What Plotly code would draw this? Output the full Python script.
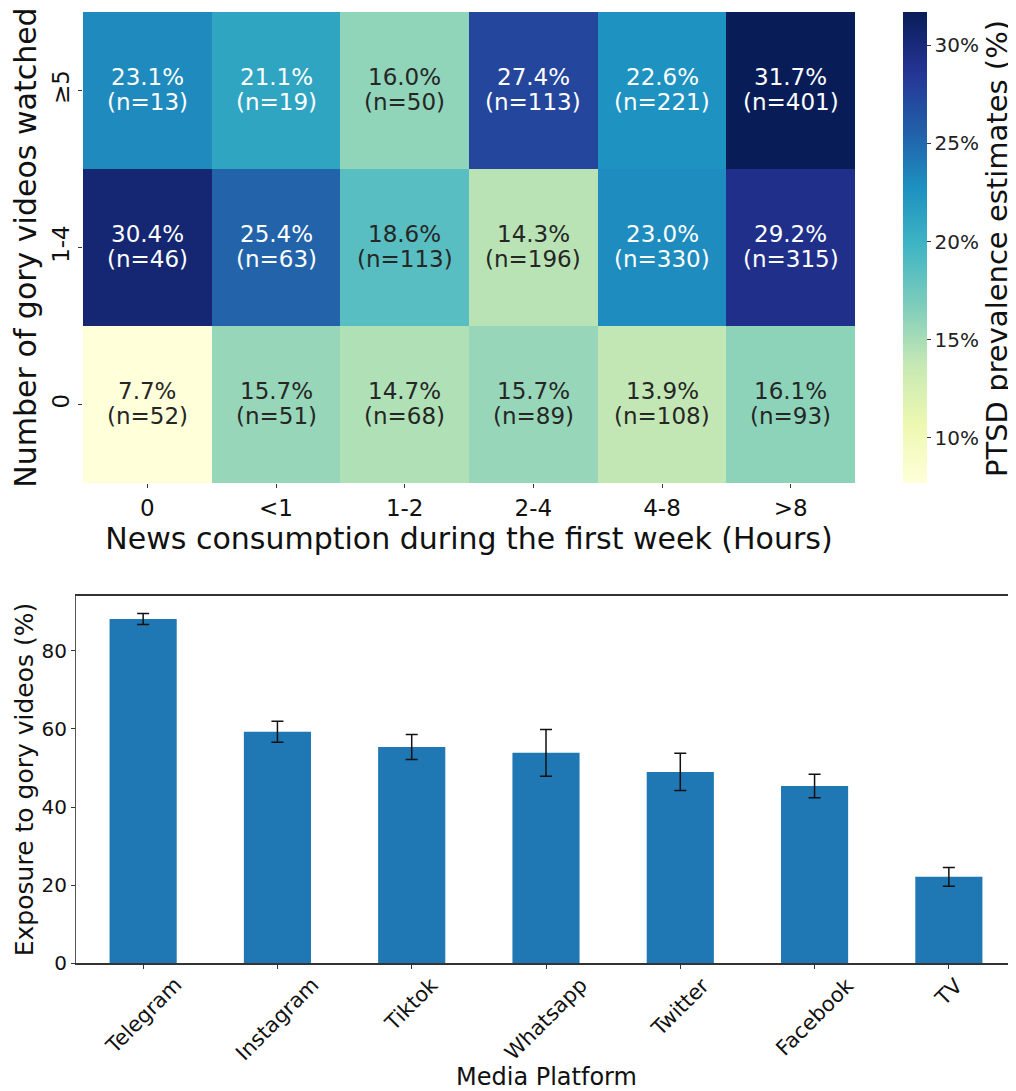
import plotly.graph_objects as go
from plotly.colors import sequential

# ---------------- data ----------------
news_hours = ["0", "<1", "1-2", "2-4", "4-8", ">8"]
gory_levels = ["0", "1-4", "≥5"]  # bottom to top
ptsd_0 = [7.7, 15.7, 14.7, 15.7, 13.9, 16.1]
ptsd_1_4 = [30.4, 25.4, 18.6, 14.3, 23.0, 29.2]
ptsd_5 = [23.1, 21.1, 16.0, 27.4, 22.6, 31.7]
n_0 = [52, 51, 68, 89, 108, 93]
n_1_4 = [46, 63, 113, 196, 330, 315]
n_5 = [13, 19, 50, 113, 221, 401]

platforms = ["Telegram", "Instagram", "Tiktok", "Whatsapp", "Twitter", "Facebook", "TV"]
exposure = [88.2, 59.3, 55.4, 53.9, 49.0, 45.4, 22.1]
exposure_err = [1.4, 2.7, 3.2, 6.0, 4.8, 3.0, 2.4]
cbar_ticks = [10, 15, 20, 25, 30]

z = [ptsd_0, ptsd_1_4, ptsd_5]
nn = [n_0, n_1_4, n_5]
zmin = min(min(r) for r in z)
zmax = max(max(r) for r in z)

FONT = "DejaVu Sans"
OFF = 8                      # browser body margin
W, H = 1016 - OFF, 1091 - OFF
DARK = "#262626"


def px(x):
    return (x - OFF) / W


def py(y):
    return 1 - (y - OFF) / H


fig = go.Figure()
fig.add_trace(go.Heatmap(
    x=news_hours, y=gory_levels, z=z,
    colorscale=sequential.YlGnBu, zmin=zmin, zmax=zmax,
    xgap=0, ygap=0, hoverinfo="skip",
    colorbar=dict(
        x=px(903), xanchor="left", y=py(12), yanchor="top",
        len=471 / H, lenmode="fraction", thickness=24, outlinewidth=0,
        xpad=0, ypad=0,
        tickvals=cbar_ticks, ticktext=[f"{t}%" for t in cbar_ticks],
        ticks="outside", ticklen=4, tickcolor="#333",
        tickfont=dict(family=FONT, size=20, color="#222"),
    ),
    xaxis="x", yaxis="y",
))

annotations = []
for i, lvl in enumerate(gory_levels):
    for j, h in enumerate(news_hours):
        v = z[i][j]
        col = "white" if v > 20 else DARK
        annotations.append(dict(
            x=h, y=lvl, xref="x", yref="y", text=f"{v:.1f}%",
            showarrow=False, yshift=13,
            font=dict(family=FONT, size=23, color=col),
        ))
        annotations.append(dict(
            x=h, y=lvl, xref="x", yref="y", text=f"(n={nn[i][j]})",
            showarrow=False, yshift=-12,
            font=dict(family=FONT, size=23, color=col),
        ))

# colorbar title
annotations.append(dict(
    x=px(997), y=py(249), xref="paper", yref="paper",
    text="PTSD prevalence estimates (%)", textangle=-90, showarrow=False,
    xanchor="center", yanchor="middle",
    font=dict(family=FONT, size=29, color="#111"),
))

# bar chart tick labels (centred rotated labels, matplotlib style)
for p in platforms:
    annotations.append(dict(
        x=p, xref="x2", y=py(970), yref="paper",
        text=p, textangle=-45, showarrow=False,
        xanchor="center", yanchor="top",
        font=dict(family=FONT, size=21, color="#111"),
    ))
annotations.append(dict(
    x=px(546), y=py(1077), xref="paper", yref="paper",
    text="Media Platform", showarrow=False, xanchor="center", yanchor="middle",
    font=dict(family=FONT, size=24, color="#111"),
))

fig.add_trace(go.Bar(
    x=platforms, y=exposure, width=0.5,
    marker=dict(color="#1f77b4", line=dict(width=0)),
    error_y=dict(type="data", array=exposure_err, visible=True,
                 color="#111", thickness=1.5, width=6),
    xaxis="x2", yaxis="y2", hoverinfo="skip",
))

fig.update_layout(
    width=W, height=H,
    margin=dict(l=0, r=0, t=0, b=0, autoexpand=False),
    paper_bgcolor="white", plot_bgcolor="white",
    showlegend=False,
    font=dict(family=FONT, color="#111"),
    annotations=annotations,
    xaxis=dict(
        domain=[px(83), px(855)], anchor="y", automargin=False,
        ticks="outside", ticklen=4, tickcolor="#333",
        tickfont=dict(family=FONT, size=23, color="#111"),
        title=dict(text="News consumption during the first week (Hours)",
                   font=dict(family=FONT, size=30, color="#111"), standoff=2),
        showgrid=False, zeroline=False, showline=False,
    ),
    yaxis=dict(
        domain=[py(483), py(12)], anchor="x", automargin=False,
        ticks="outside", ticklen=4, tickcolor="#333", tickangle=-90,
        tickfont=dict(family=FONT, size=23, color="#111"),
        title=dict(text="Number of gory videos watched",
                   font=dict(family=FONT, size=30, color="#111"), standoff=2),
        showgrid=False, zeroline=False, showline=False,
    ),
    xaxis2=dict(
        domain=[px(76), 1.0], anchor="y2", range=[-0.5, 6.5], automargin=False,
        showticklabels=False, ticks="outside", ticklen=4, tickcolor="#333",
        showline=True, linecolor="#333", linewidth=2, mirror=True,
        showgrid=False, zeroline=False,
    ),
    yaxis2=dict(
        domain=[py(963), py(596)], anchor="x2", range=[0, 94.1],
        automargin=False,
        tickvals=[0, 20, 40, 60, 80],
        ticks="outside", ticklen=4, tickcolor="#333",
        tickfont=dict(family=FONT, size=20, color="#111"),
        title=dict(text="Exposure to gory videos (%)",
                   font=dict(family=FONT, size=25, color="#111"), standoff=0),
        showline=True, linecolor="#555", linewidth=1,
        showgrid=False, zeroline=False,
    ),
)

fig.write_html("out.html")
